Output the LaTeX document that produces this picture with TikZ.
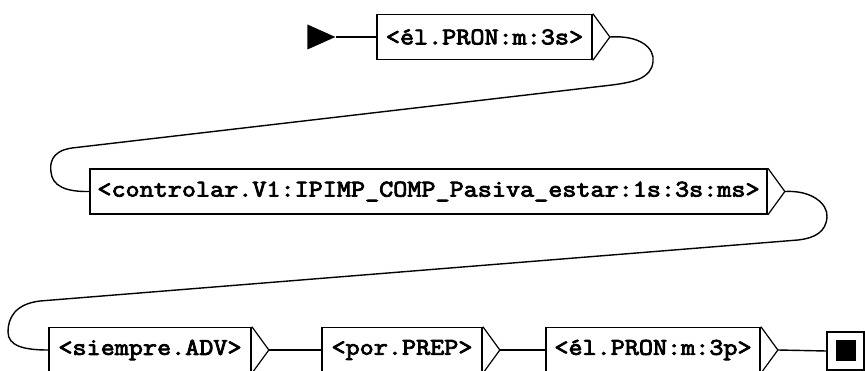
\documentclass[tikz,border=0pt]{standalone}
\usepackage{fontspec}
\newfontfamily\boxfont{Latin Modern Mono}[FakeStretch=1.14, FakeBold=3.5]
\usetikzlibrary{shapes.geometric}

\tikzset{
  unit/.style={draw, line width=1.7pt, minimum height=45pt, inner sep=0pt,
    font=\boxfont\fontsize{24}{24}\selectfont},
  chevline/.style={line width=1.2pt, line join=miter},
  link/.style={line width=1.4pt},
}
% chevron on the right of a box, with a named coordinate at its tip
\newcommand\chevron[2]{%
  \draw[chevline] (#1.north east) -- ([xshift=17pt]#1.east) coordinate (#2) -- (#1.south east);}

\begin{document}
\begin{tikzpicture}[x=1pt,y=-1pt]
\useasboundingbox (0,0) rectangle (865,371);

% initial state
\node[isosceles triangle, isosceles triangle stretches, fill, inner sep=0pt,
      minimum width=25pt, minimum height=28pt] (start) at (315.5,37) {};

% first line
\node[unit, minimum width=215pt] (top) at (484.5,37) {<él.PRON:m:3s>};
\chevron{top}{t1}
\draw[link] (start.apex) -- (top.west);

% second line
\node[unit, minimum width=677pt] (mid) at (428.5,191.5)
  {<controlar.V1:IPIMP\_COMP\_Pasiva\_estar:1s:3s:ms>};
\chevron{mid}{t2}

% third line
\node[unit, minimum width=202pt] (b1) at (150,350) {<siempre.ADV>};
\chevron{b1}{t3}
\node[unit, minimum width=160pt] (b2) at (402,350) {<por.PREP>};
\chevron{b2}{t4}
\node[unit, minimum width=214pt] (b3) at (653,350) {<él.PRON:m:3p>};
\chevron{b3}{t5}

% final state
\node[draw, line width=1.7pt, minimum width=37pt, minimum height=38pt, inner sep=0pt]
  (final) at (845.5,351) {};
\node[fill, minimum width=20pt, minimum height=21pt, inner sep=0pt]
  (finalmark) at (final.center) {};

% wrap-around connectors
\draw[link] (t1) .. controls (640,35) and (655,48) .. (653,62)
  .. controls (651,78) and (635,82) .. (612,85) -- (72,148)
  .. controls (50,151) and (50,165) .. (51,172)
  .. controls (52,186) and (66,192) .. (mid.west);
\draw[link] (t2) .. controls (812,190) and (828,204) .. (827,217)
  .. controls (826,232) and (815,238) .. (798,240) -- (40,301)
  .. controls (15,304) and (8,318) .. (8,332)
  .. controls (8,346) and (24,350) .. (b1.west);

% straight connectors
\draw[link] (t3) -- (b2.west);
\draw[link] (t4) -- (b3.west);
\draw[link] (t5) -- (final.west);
\end{tikzpicture}
\end{document}
